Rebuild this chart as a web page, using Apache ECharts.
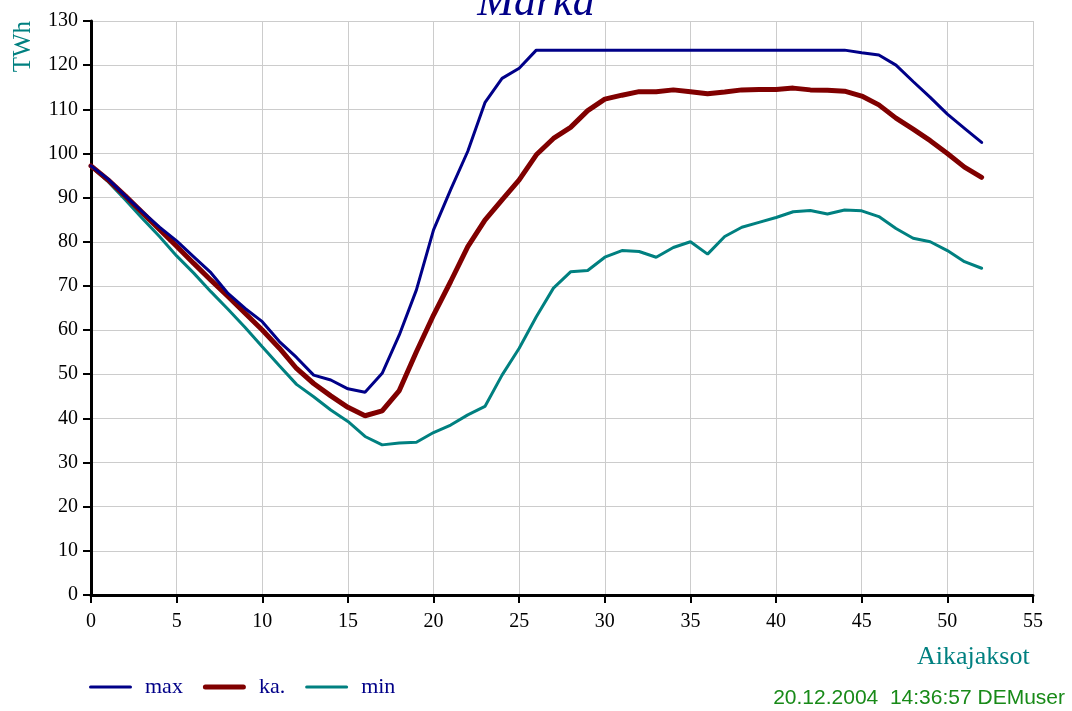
<!DOCTYPE html>
<html>
<head>
<meta charset="utf-8">
<script src="https://cdn.jsdelivr.net/npm/echarts@6/dist/echarts.min.js"></script>
<style>
html,body{margin:0;padding:0;background:#fff;}
#c{width:1072px;height:711px;}
</style>
</head>
<body>
<div id="c"></div>
<script>
var weeks = [];
for (var i = 0; i <= 52; i++) weeks.push(i);

var maxVals = [97.2, 94.2, 90.4, 86.8, 83.3, 80.2, 76.6, 73.0, 68.3, 64.9,
  61.9, 57.4, 53.8, 49.8, 48.7, 46.7, 45.9, 50.2, 58.9, 69.1,
  82.7, 91.8, 100.5, 111.5, 117.0, 119.3, 123.4, 123.4, 123.4, 123.4,
  123.4, 123.4, 123.4, 123.4, 123.4, 123.4, 123.4, 123.4, 123.4, 123.4,
  123.4, 123.4, 123.4, 123.4, 123.4, 122.8, 122.3, 120.0, 116.3, 112.7,
  108.9, 105.7, 102.5];

var kaVals = [97.2, 94.0, 90.4, 86.6, 82.8, 79.0, 75.1, 71.3, 67.6, 63.8,
  60.0, 55.9, 51.3, 47.9, 45.1, 42.5, 40.6, 41.7, 46.3, 55.1,
  63.4, 71.0, 78.9, 84.9, 89.5, 94.0, 99.7, 103.4, 105.9, 109.7,
  112.3, 113.2, 114.0, 114.0, 114.4, 114.0, 113.5, 113.9, 114.4, 114.5,
  114.5, 114.8, 114.4, 114.3, 114.1, 113.0, 111.0, 108.0, 105.5, 102.9,
  100.0, 96.9, 94.6];

var minVals = [97.0, 93.6, 89.5, 85.3, 81.2, 76.8, 72.9, 68.7, 64.7, 60.6,
  56.2, 51.9, 47.7, 44.9, 41.9, 39.3, 35.9, 34.0, 34.4, 34.6,
  36.8, 38.5, 40.8, 42.7, 49.8, 55.9, 63.0, 69.5, 73.2, 73.5,
  76.5, 78.0, 77.8, 76.5, 78.7, 80.0, 77.2, 81.2, 83.3, 84.4,
  85.5, 86.8, 87.1, 86.3, 87.2, 87.0, 85.7, 83.0, 80.8, 80.0,
  78.0, 75.5, 74.0];

var seriesNames = ['max', 'ka.', 'min'];
var titleText = 'Marka';
var yName = 'TWh';
var xName = 'Aikajaksot';
var stampText = '20.12.2004  14:36:57 DEMuser';

function pairs(vals) {
  return weeks.map(function (w, i) { return [w, vals[i]]; });
}

var serif = '"Liberation Serif", "Times New Roman", serif';
var chart = echarts.init(document.getElementById('c'), null, {renderer: 'canvas'});

var thinIcon = 'path://M1.5,0 L41.5,0 A1.5,1.5 0 0 1 41.5,3 L1.5,3 A1.5,1.5 0 0 1 1.5,0 Z';
var thickIcon = 'path://M2.5,0 L40.5,0 A2.5,2.5 0 0 1 40.5,5 L2.5,5 A2.5,2.5 0 0 1 2.5,0 Z';

chart.setOption({
  animation: false,
  backgroundColor: '#ffffff',
  title: {
    text: titleText,
    left: 'center',
    top: -24,
    textStyle: {fontFamily: serif, fontStyle: 'italic', fontWeight: 'normal', fontSize: 44, lineHeight: 44, color: '#000088'}
  },
  grid: {left: 91, right: 39, top: 21, bottom: 116, containLabel: false},
  legend: {
    left: 84,
    top: 671,
    itemWidth: 43,
    itemHeight: 14,
    itemGap: 20,
    data: [
      {name: seriesNames[0], icon: thinIcon},
      {name: seriesNames[1], icon: thickIcon},
      {name: seriesNames[2], icon: thinIcon}
    ],
    textStyle: {fontFamily: serif, fontSize: 22, color: '#000088', padding: [0, 0, 0, 8]}
  },
  xAxis: {
    type: 'value',
    min: 0, max: 55, interval: 5,
    axisLine: {show: true, onZero: false, lineStyle: {color: '#000', width: 3}},
    axisTick: {show: true, length: 8, lineStyle: {color: '#000', width: 2}},
    axisLabel: {fontFamily: serif, fontSize: 20, color: '#000', margin: 17},
    splitLine: {show: true, lineStyle: {color: '#cccccc', width: 1}}
  },
  yAxis: {
    type: 'value',
    min: 0, max: 130, interval: 10,
    axisLine: {show: true, onZero: false, lineStyle: {color: '#000', width: 3}},
    axisTick: {show: true, length: 8, lineStyle: {color: '#000', width: 2}},
    axisLabel: {fontFamily: serif, fontSize: 20, color: '#000', margin: 13},
    splitLine: {show: true, lineStyle: {color: '#cccccc', width: 1}}
  },
  graphic: [
    {type: 'text', left: 11, top: 21, rotation: Math.PI / 2,
     style: {text: yName, font: '25px ' + serif, fill: '#008080'}},
    {type: 'text', left: 917, top: 644,
     style: {text: xName, font: '26px ' + serif, fill: '#008080'}},
    {type: 'text', right: 7, top: 688,
     style: {text: stampText, font: '21px "Liberation Sans", Arial, sans-serif', fill: '#188a18'}}
  ],
  series: [
    {name: seriesNames[0], type: 'line', data: pairs(maxVals), symbol: 'none', showSymbol: false,
     lineStyle: {color: '#000088', width: 3, cap: 'round'}, itemStyle: {color: '#000088'}, z: 3},
    {name: seriesNames[1], type: 'line', data: pairs(kaVals), symbol: 'none', showSymbol: false,
     lineStyle: {color: '#800000', width: 5, cap: 'round'}, itemStyle: {color: '#800000'}, z: 2},
    {name: seriesNames[2], type: 'line', data: pairs(minVals), symbol: 'none', showSymbol: false,
     lineStyle: {color: '#008080', width: 3, cap: 'round'}, itemStyle: {color: '#008080'}, z: 1}
  ]
});
</script>
</body>
</html>
